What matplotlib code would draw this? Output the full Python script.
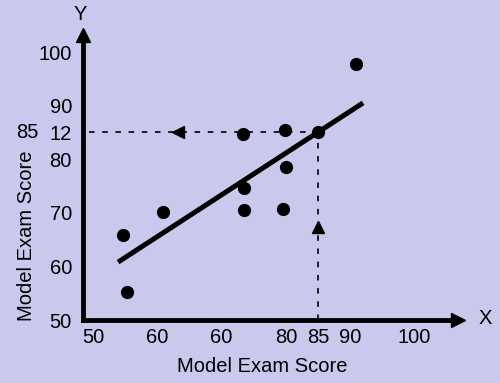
import matplotlib
matplotlib.use("Agg")
import matplotlib.pyplot as plt
import matplotlib.transforms as mtransforms

# ---- data ----
score_x = [54.7, 55.3, 60.9, 73.3, 79.9, 85.0, 80.0, 73.5, 73.5, 79.5, 90.9]
score_y = [65.9, 55.2, 70.1, 84.7, 85.4, 85.1, 78.5, 74.6, 70.5, 70.7, 97.8]
fit_x = [53.9, 92.0]
fit_y = [60.8, 90.5]
x_ticks = [50, 60, 70, 80, 85, 90, 100]
x_tick_labels = ["50", "60", "60", "80", "85", "90", "100"]
y_ticks = [50, 60, 70, 80, 85, 90, 100]
y_tick_labels = ["50", "60", "70", "80", "12", "90", "100"]
read_x = 85
read_y = 85
x_label = "Model Exam Score"
y_label = "Model Exam Score"

# ---- layout ----
plt.rcParams['font.family'] = ['Liberation Sans', 'DejaVu Sans']
plt.rcParams['lines.scale_dashes'] = False
bg = "#C9C9EE"
W, H = 500, 383
fig = plt.figure(figsize=(W / 100, H / 100), dpi=100, facecolor=bg)

# axes box in pixels: left 83, right 458, bottom 320, top 35
L, R, B, T = 83, 458, 320, 35
ax = fig.add_axes([L / W, (H - B) / H, (R - L) / W, (B - T) / H])
ax.set_facecolor(bg)
px_per_x = 6.43
px_per_y = 5.36
ax.set_xlim(50 - (93 - L) / px_per_x, 50 + (R - 93) / px_per_x)
ax.set_ylim(50, 50 + (B - T) / px_per_y)

for s in ['top', 'right']:
    ax.spines[s].set_visible(False)
for s in ['left', 'bottom']:
    ax.spines[s].set_linewidth(3.5)
    ax.spines[s].set_capstyle('projecting')

fs = 14.5
ax.set_xticks(x_ticks)
ax.set_xticklabels(x_tick_labels)
ax.set_yticks(y_ticks)
ax.set_yticklabels(y_tick_labels)
ax.tick_params(axis='x', length=0, pad=6, labelsize=fs)
ax.tick_params(axis='y', length=0, pad=8, labelsize=fs)

# axis arrowheads
ax.plot([1], [0], marker='>', color='black', markersize=10.5,
        transform=ax.transAxes, clip_on=False)
ax.plot([0], [1], marker='^', color='black', markersize=10.5,
        transform=ax.transAxes, clip_on=False)
fig.text(485 / W, 1 - 318 / H, "X", fontsize=fs, ha='center', va='center')
fig.text(80 / W, 1 - 14 / H, "Y", fontsize=fs, ha='center', va='center')

# axis titles
ax.set_xlabel(x_label, fontsize=fs, va='center')
ax.xaxis.set_label_coords((262 - L) / (R - L), -(366 - B) / (B - T))
ax.set_ylabel(y_label, fontsize=fs, va='center')
ax.yaxis.set_label_coords((27 - L) / (R - L), (B - 236) / (B - T))

# extra "85" label on y side
trans = mtransforms.blended_transform_factory(ax.transAxes, ax.transData)
ax.text((27.5 - L) / (R - L), read_y, "85", transform=trans, fontsize=fs,
        ha='center', va='center', clip_on=False)

# dashed reading lines
x0 = ax.get_xlim()[0]
ax.plot([x0 + 1.0, read_x], [read_y, read_y], color='black', lw=1.2,
        dashes=[4, 5.5], zorder=2)
ax.plot([read_x, read_x], [50, read_y], color='black', lw=1.2,
        dashes=[4, 5.5], zorder=2)
ax.plot([63.2], [read_y], marker='<', color='black', markersize=9, zorder=3)
ax.plot([read_x], [67.4], marker='^', color='black', markersize=9, zorder=3)

# fit line and points
ax.plot(fit_x, fit_y, color='black', lw=3.6, solid_capstyle='butt', zorder=4)
ax.plot(score_x, score_y, 'o', color='black', markersize=8.5, zorder=5)

fig.savefig("out.png", dpi=100, facecolor=bg)
